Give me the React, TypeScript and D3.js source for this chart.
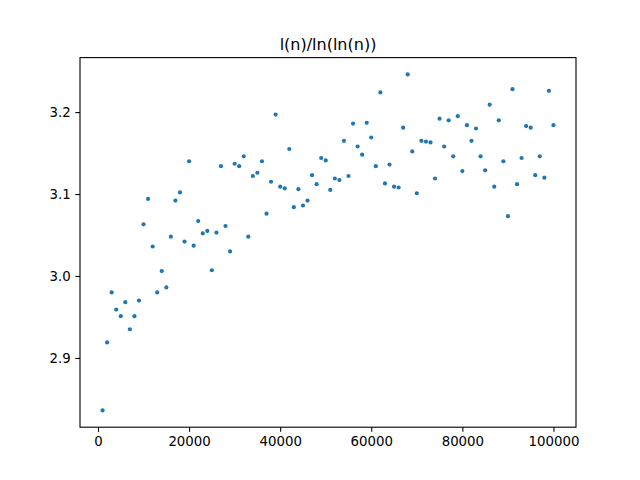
import * as d3 from "d3";
import { useEffect, useRef } from "react";

// n = 1000, 2000, ..., 100000
const nValues: number[] = Array.from({ length: 100 }, (_, i) => (i + 1) * 1000);

// l(n)/ln(ln(n))
const ratioValues: number[] = [
  2.836, 2.919, 2.980, 2.959, 2.951, 2.968, 2.935, 2.951, 2.970, 3.063,
  3.094, 3.036, 2.980, 3.006, 2.986, 3.048, 3.092, 3.102, 3.042, 3.140,
  3.037, 3.067, 3.052, 3.055, 3.007, 3.053, 3.134, 3.061, 3.030, 3.137,
  3.134, 3.146, 3.048, 3.122, 3.126, 3.140, 3.076, 3.115, 3.197, 3.109,
  3.107, 3.155, 3.084, 3.106, 3.086, 3.092, 3.123, 3.112, 3.144, 3.141,
  3.105, 3.119, 3.117, 3.165, 3.122, 3.186, 3.158, 3.148, 3.187, 3.169,
  3.134, 3.224, 3.113, 3.136, 3.109, 3.108, 3.181, 3.246, 3.152, 3.101,
  3.165, 3.164, 3.163, 3.119, 3.192, 3.158, 3.190, 3.146, 3.195, 3.128,
  3.184, 3.165, 3.180, 3.146, 3.129, 3.209, 3.109, 3.190, 3.140, 3.073,
  3.228, 3.112, 3.144, 3.183, 3.181, 3.123, 3.146, 3.120, 3.226, 3.184,
];

const xTicks: number[] = [0, 20000, 40000, 60000, 80000, 100000];
const yTicks: number[] = [2.9, 3.0, 3.1, 3.2];
const title = "l(n)/ln(ln(n))";

const App = () => {
  const svgRef = useRef<SVGSVGElement | null>(null);

  useEffect(() => {
    const width = 640;
    const height = 480;
    const margin = { top: 57.6, right: 64, bottom: 52.8, left: 80 };
    const font = "'DejaVu Sans', sans-serif";

    const svg = d3.select(svgRef.current);
    svg.selectAll("*").remove();

    // matplotlib style 5% padding
    const pad = (lo: number, hi: number) => {
      const m = (hi - lo) * 0.05;
      return [lo - m, hi + m];
    };
    const [xLo, xHi] = pad(d3.min(nValues)!, d3.max(nValues)!);
    const [yLo, yHi] = pad(d3.min(ratioValues)!, d3.max(ratioValues)!);

    const xScale = d3.scaleLinear().domain([xLo, xHi]).range([margin.left, width - margin.right]);
    const yScale = d3.scaleLinear().domain([yLo, yHi]).range([height - margin.bottom, margin.top]);

    svg.append("rect").attr("width", width).attr("height", height).attr("fill", "white");

    // points
    svg
      .append("g")
      .selectAll("circle")
      .data(nValues)
      .join("circle")
      .attr("cx", (d) => xScale(d))
      .attr("cy", (_, i) => yScale(ratioValues[i]))
      .attr("r", 2.1)
      .attr("fill", "#1f77b4");

    // axes
    const xAxis = svg
      .append("g")
      .attr("transform", `translate(0,${height - margin.bottom})`)
      .call(d3.axisBottom(xScale).tickValues(xTicks).tickFormat(d3.format("d")).tickSize(4.67).tickPadding(4.67));

    const yAxis = svg
      .append("g")
      .attr("transform", `translate(${margin.left},0)`)
      .call(d3.axisLeft(yScale).tickValues(yTicks).tickFormat(d3.format(".1f")).tickSize(4.67).tickPadding(4.67));

    [xAxis, yAxis].forEach((a) => {
      a.select(".domain").remove();
      a.selectAll("line").attr("stroke", "black").attr("stroke-width", 1.1);
      a.selectAll("text").attr("font-family", font).attr("font-size", 13.33).attr("fill", "black");
    });

    // frame
    svg
      .append("rect")
      .attr("x", margin.left)
      .attr("y", margin.top)
      .attr("width", width - margin.left - margin.right)
      .attr("height", height - margin.top - margin.bottom)
      .attr("fill", "none")
      .attr("stroke", "black")
      .attr("stroke-width", 1.1);

    svg
      .append("text")
      .attr("x", (margin.left + width - margin.right) / 2)
      .attr("y", margin.top - 8)
      .attr("text-anchor", "middle")
      .attr("font-family", font)
      .attr("font-size", 16)
      .attr("fill", "black")
      .text(title);
  }, []);

  return (
    <svg
      ref={svgRef}
      width={640}
      height={480}
      style={{ position: "fixed", left: 0, top: 0, display: "block" }}
    ></svg>
  );
};

export default App;
